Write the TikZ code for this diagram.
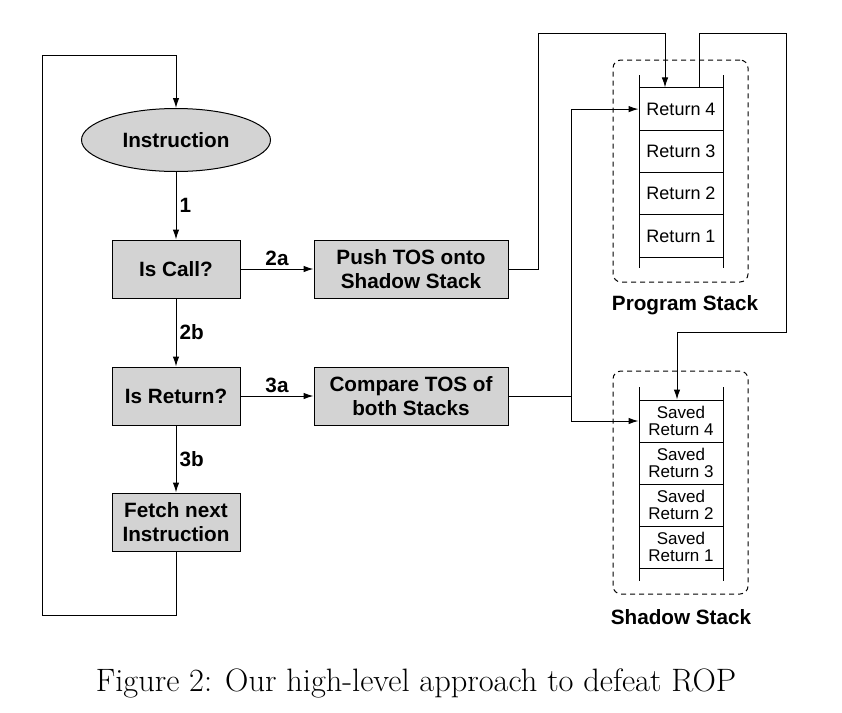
\documentclass[tikz,border=0pt]{standalone}
\usepackage{fontspec}
\newfontfamily\helv{Liberation Sans}
\usetikzlibrary{shapes.geometric,arrows.meta}
\definecolor{boxgray}{RGB}{211,211,211}

\tikzset{
  arr/.style={-{Latex[length=10pt,width=6.5pt]}},
  flowbox/.style={draw, fill=boxgray, inner sep=0, align=center,
    minimum width=128, minimum height=58,
    font=\helv\bfseries\fontsize{20.7}{24.5}\selectfont},
  cell/.style={draw, inner sep=0, align=center, minimum width=84,
    font=\helv\fontsize{18}{16}\selectfont},
  savedcell/.style={cell, font=\helv\fontsize{17}{17}\selectfont},
  steplabel/.style={font=\helv\bfseries\fontsize{20.7}{24}\selectfont, inner sep=3pt},
  stackframe/.style={draw, dash pattern={on 5pt off 4pt}, rounded corners=8pt}
}

\begin{document}
\begin{tikzpicture}[x=1pt,y=1pt,yscale=-1,line width=1pt]
  \useasboundingbox (0,0) rectangle (842,712);

  % flow chart
  \node [ellipse, draw, fill=boxgray, minimum width=189, minimum height=63, inner sep=0,
         font=\helv\bfseries\fontsize{20.7}{24}\selectfont] (instr) at (176,140) {Instruction};
  \node [flowbox] (iscall) at (176,269) {Is Call?};
  \node [flowbox] (isret) at (176,396) {Is Return?};
  \node [flowbox] (fetch) at (176,522) {Fetch next\\Instruction};
  \node [flowbox, minimum width=194] (push) at (411,269) {Push TOS onto\\Shadow Stack};
  \node [flowbox, minimum width=194] (cmp) at (411,396) {Compare TOS of\\both Stacks};

  \draw [arr] (instr) -- node [steplabel, right] {1} (iscall);
  \draw [arr] (iscall) -- node [steplabel, right] {2b} (isret);
  \draw [arr] (isret) -- node [steplabel, right] {3b} (fetch);
  \draw [arr] (iscall) -- node [steplabel, above] {2a} (push);
  \draw [arr] (isret) -- node [steplabel, above] {3a} (cmp);

  % loop back
  \coordinate (loopBL) at (42,615);
  \coordinate (loopTL) at (42,55);
  \draw [arr] (fetch.south) |- (loopBL) -- (loopTL) -| (instr.north);

  % program stack
  \node [stackframe, minimum width=135, minimum height=222] (progframe) at (680.5,171) {};
  \node [cell, minimum height=42.25] (p4) at (681,109.1) {Return 4};
  \node [cell, minimum height=42.25] (p3) at (681,151.4) {Return 3};
  \node [cell, minimum height=42.25] (p2) at (681,193.6) {Return 2};
  \node [cell, minimum height=42.25] (p1) at (681,235.9) {Return 1};
  \draw (639,75) -- (639,268);
  \draw (723,75) -- (723,268);
  \draw (639,257) -- (723,257);
  \node [steplabel] (proglabel) at (685,305) {Program Stack};

  % shadow stack
  \node [stackframe, minimum width=135, minimum height=223] (shadframe) at (680.5,482.5) {};
  \node [savedcell, minimum height=42] (s4) at (681,421) {Saved\\Return 4};
  \node [savedcell, minimum height=42] (s3) at (681,463) {Saved\\Return 3};
  \node [savedcell, minimum height=42] (s2) at (681,505) {Saved\\Return 2};
  \node [savedcell, minimum height=42] (s1) at (681,547) {Saved\\Return 1};
  \draw (639,387) -- (639,581);
  \draw (723,387) -- (723,581);
  \draw (639,568) -- (723,568);
  \node [steplabel] (shadlabel) at (681,617) {Shadow Stack};

  % stack connectors
  \coordinate (pushUp) at (538,33);
  \draw [arr] (push.east) -| (pushUp) -| ([xshift=-16pt]p4.north);
  \coordinate (progUp) at (699,33);
  \coordinate (progRight) at (786,332);
  \draw [arr] ([xshift=18pt]p4.north) -- (progUp) -| (progRight) -| ([xshift=-4pt]s4.north);
  \coordinate (cmpSplit) at (571,396);
  \draw (cmp.east) -- (cmpSplit);
  \draw [arr] (cmpSplit) |- (p4.west);
  \draw [arr] (cmpSplit) |- (s4.west);

  % caption
  \node [font=\fontsize{32.4}{36}\selectfont] (caption) at (416,683)
        {Figure 2: Our high-level approach to defeat ROP};
\end{tikzpicture}
\end{document}
